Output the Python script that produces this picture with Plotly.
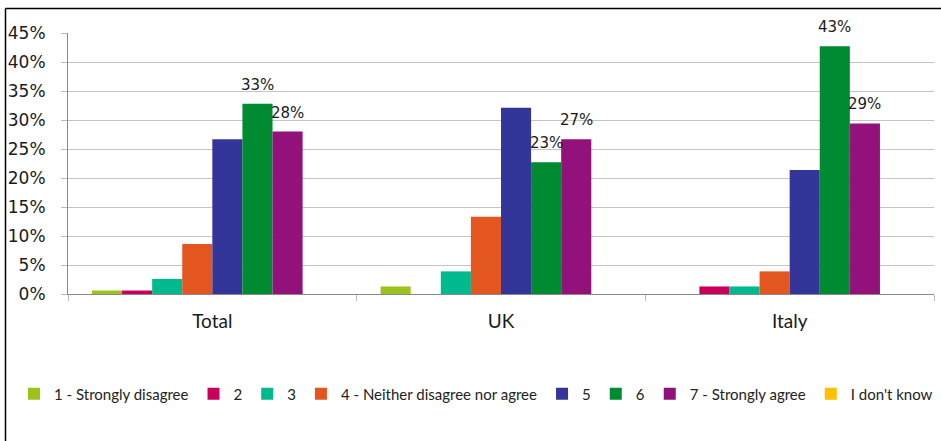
import plotly.graph_objects as go

categories = ["Total", "UK", "Italy"]
series_names = ["1 - Strongly disagree", "2", "3", "4 - Neither disagree nor agree",
                "5", "6", "7 - Strongly agree", "I don't know"]
s1 = [0.006, 0.013, 0.0]
s2 = [0.006, 0.0, 0.013]
s3 = [0.026, 0.039, 0.013]
s4 = [0.086, 0.133, 0.039]
s5 = [0.267, 0.321, 0.214]
s6 = [0.328, 0.227, 0.427]
s7 = [0.280, 0.267, 0.294]
s8 = [0.0, 0.0, 0.0]
values = [s1, s2, s3, s4, s5, s6, s7, s8]
colors = ["#9BC31B", "#C6005B", "#00BA8D", "#E4561F", "#343598", "#008A32", "#92117A", "#FFC000"]
labelled = [False, False, False, False, False, True, True, False]
y_ticks = [0, 0.05, 0.10, 0.15, 0.20, 0.25, 0.30, 0.35, 0.40, 0.45]

W, H = 941, 441
ML, MR, MT, MB = 68, 7, 33, 147
BARGAP = 0.166

fig = go.Figure()
for name, vals, col in zip(series_names, values, colors):
    fig.add_trace(go.Bar(
        name=name, x=categories, y=vals, marker=dict(color=col, line=dict(width=0)),
    ))

pw = W - ML - MR
ph = H - MT - MB
n = len(values)
bar_px = pw / len(categories) * (1 - BARGAP) / n

annotations = []
for i, (vals, lab) in enumerate(zip(values, labelled)):
    if not lab:
        continue
    for cat, v in zip(categories, vals):
        annotations.append(dict(
            x=cat, y=v, xref="x", yref="y", text=f"{v:.0%}", showarrow=False,
            xshift=(i - (n - 1) / 2) * bar_px, yshift=19, yanchor="middle",
            font=dict(family="DejaVu Sans", size=15, color="#1a1a1a"),
        ))

fig.update_layout(
    width=W, height=H,
    margin=dict(l=ML, r=MR, t=MT, b=MB),
    barmode="group", bargap=BARGAP, bargroupgap=0,
    plot_bgcolor="white", paper_bgcolor="white",
    showlegend=True,
    legend=dict(orientation="h", xref="paper", yref="paper",
                x=(14 - ML) / pw, xanchor="left", y=-(394 - (H - MB)) / ph, yanchor="middle",
                font=dict(family="Lato", size=15, color="#222"),
                itemwidth=30, tracegroupgap=0, traceorder="normal"),
    xaxis=dict(showline=True, linecolor="#898989", linewidth=1,
               ticks="outside", tickson="boundaries", ticklen=6, tickcolor="#bbbbbb",
               ticklabelstandoff=10,
               tickfont=dict(family="Lato", size=19, color="#1a1a1a"),
               showgrid=False),
    yaxis=dict(range=[0, 0.45], tickvals=y_ticks, tickformat=".0%",
               showline=True, linecolor="#898989", linewidth=1,
               ticks="outside", ticklen=6, tickcolor="#bbbbbb",
               gridcolor="#c4c4c4", gridwidth=1, zeroline=False,
               ticklabelstandoff=12,
               tickfont=dict(family="DejaVu Sans", size=17, color="#1a1a1a")),
    annotations=annotations,
    shapes=[
        dict(type="line", xref="paper", yref="paper",
             x0=(5.5 - ML) / pw, x1=(W - ML) / pw, y0=1 + (MT - 8.5) / ph, y1=1 + (MT - 8.5) / ph,
             line=dict(color="black", width=1.5)),
        dict(type="line", xref="paper", yref="paper",
             x0=(5.5 - ML) / pw, x1=(5.5 - ML) / pw, y0=1 + (MT - 8.5) / ph, y1=-(MB) / ph,
             line=dict(color="black", width=1.5)),
    ],
)
fig.write_html("out.html")
